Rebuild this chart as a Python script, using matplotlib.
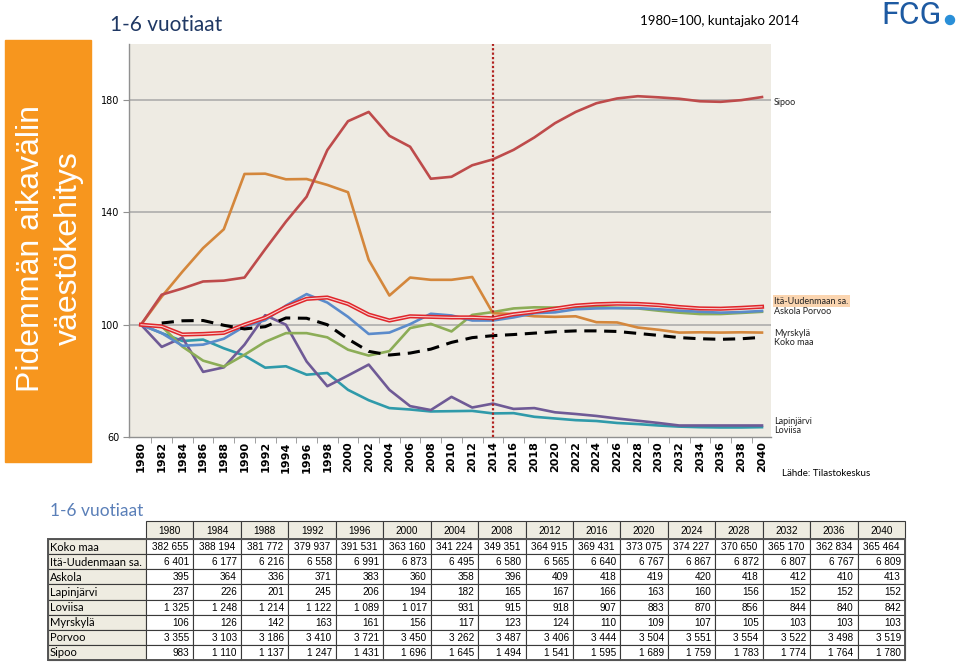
import matplotlib
matplotlib.use('Agg')
import matplotlib.pyplot as plt
import matplotlib.patches as patches
from matplotlib import font_manager

W, H = 960, 663

# chart series, index 1980 = 100, read every second year
years = list(range(1980, 2041, 2))
koko_maa = [100, 100.6, 101.4, 101.5, 99.8, 98.5, 99.3, 102.4, 102.3, 100.0, 94.9, 90.5, 89.2, 89.9, 91.3, 93.7,
            95.4, 96.1, 96.5, 97.0, 97.5, 97.8, 97.8, 97.6, 96.9, 96.2, 95.4, 95.0, 94.8, 95.0, 95.5]
ita_uusimaa = [100, 99.4, 96.5, 96.7, 97.1, 100.0, 102.5, 106.3, 109.2, 109.7, 107.4, 103.6, 101.5, 103.0, 102.8, 102.6,
               102.6, 102.3, 103.7, 104.6, 105.7, 106.8, 107.3, 107.5, 107.4, 107.0, 106.3, 105.8, 105.7, 106.0, 106.4]
askola = [100, 99.4, 92.2, 87.2, 85.1, 89.3, 93.9, 97.0, 97.0, 95.5, 91.1, 89.0, 90.6, 98.8, 100.3, 97.6,
          103.5, 104.5, 105.8, 106.2, 106.1, 106.2, 106.3, 106.0, 105.8, 105.0, 104.3, 103.8, 103.8, 104.2, 104.6]
lapinjarvi = [100, 92.1, 95.4, 83.2, 84.8, 92.9, 103.4, 100.0, 86.9, 78.1, 81.9, 85.8, 76.8, 71.0, 69.6, 74.3,
              70.5, 71.9, 70.0, 70.3, 68.8, 68.2, 67.5, 66.6, 65.8, 65.0, 64.1, 64.1, 64.1, 64.1, 64.1]
loviisa = [100, 97.0, 94.2, 94.7, 91.6, 89.0, 84.7, 85.2, 82.2, 82.8, 76.8, 73.1, 70.3, 69.8, 69.1, 69.2,
           69.3, 68.4, 68.5, 67.2, 66.6, 66.0, 65.7, 65.0, 64.6, 64.1, 63.7, 63.5, 63.4, 63.4, 63.5]
myrskyla = [100, 110.0, 118.9, 127.3, 134.0, 153.7, 153.8, 151.8, 151.9, 149.8, 147.2, 123.1, 110.4, 116.8, 116.0, 116.0,
            117.0, 104.1, 103.8, 103.0, 102.8, 103.0, 100.9, 100.8, 99.0, 98.2, 97.2, 97.3, 97.2, 97.3, 97.2]
porvoo = [100, 97.0, 92.5, 92.9, 95.0, 99.4, 101.6, 106.8, 110.9, 107.9, 102.8, 96.7, 97.2, 100.2, 103.9, 103.3,
          101.5, 101.5, 102.6, 104.1, 104.4, 105.5, 105.8, 105.9, 105.9, 105.5, 105.0, 104.6, 104.3, 104.5, 104.9]
sipoo = [100, 110.7, 112.9, 115.4, 115.7, 116.8, 126.9, 136.7, 145.6, 162.2, 172.5, 175.8, 167.3, 163.4, 152.0, 152.7,
         156.8, 158.9, 162.3, 166.7, 171.8, 175.8, 178.9, 180.6, 181.4, 181.0, 180.5, 179.6, 179.4, 180.0, 181.1]

# table below the chart
table_years = [1980, 1984, 1988, 1992, 1996, 2000, 2004, 2008, 2012, 2016, 2020, 2024, 2028, 2032, 2036, 2040]
table_rows = ['Koko maa', 'Itä-Uudenmaan sa.', 'Askola', 'Lapinjärvi', 'Loviisa', 'Myrskylä', 'Porvoo', 'Sipoo']
t_koko_maa = [382655, 388194, 381772, 379937, 391531, 363160, 341224, 349351, 364915, 369431, 373075, 374227, 370650, 365170, 362834, 365464]
t_ita = [6401, 6177, 6216, 6558, 6991, 6873, 6495, 6580, 6565, 6640, 6767, 6867, 6872, 6807, 6767, 6809]
t_askola = [395, 364, 336, 371, 383, 360, 358, 396, 409, 418, 419, 420, 418, 412, 410, 413]
t_lapinjarvi = [237, 226, 201, 245, 206, 194, 182, 165, 167, 166, 163, 160, 156, 152, 152, 152]
t_loviisa = [1325, 1248, 1214, 1122, 1089, 1017, 931, 915, 918, 907, 883, 870, 856, 844, 840, 842]
t_myrskyla = [106, 126, 142, 163, 161, 156, 117, 123, 124, 110, 109, 107, 105, 103, 103, 103]
t_porvoo = [3355, 3103, 3186, 3410, 3721, 3450, 3262, 3487, 3406, 3444, 3504, 3551, 3554, 3522, 3498, 3519]
t_sipoo = [983, 1110, 1137, 1247, 1431, 1696, 1645, 1494, 1541, 1595, 1689, 1759, 1783, 1774, 1764, 1780]
table_values = [t_koko_maa, t_ita, t_askola, t_lapinjarvi, t_loviisa, t_myrskyla, t_porvoo, t_sipoo]

installed = {f.name for f in font_manager.fontManager.ttflist}
num_font = 'Liberation Sans Narrow' if 'Liberation Sans Narrow' in installed else 'Liberation Sans'
text_font = 'Lato'

beige = '#EEEBE3'


def rect(x0, y0, x1, y1):
    """pixel box (top-left origin) -> figure fraction"""
    return [x0 / W, 1 - y1 / H, (x1 - x0) / W, (y1 - y0) / H]


def fmt(v):
    return f"{v:,}".replace(',', ' ')


fig = plt.figure(figsize=(W / 100, H / 100), dpi=100)

# page layer in pixel coordinates
page = fig.add_axes([0, 0, 1, 1])
page.set_xlim(0, W)
page.set_ylim(H, 0)
page.axis('off')

page.text(110, 25, '1-6 vuotiaat', fontsize=15, color='#1F3864', family=text_font, va='center')
page.text(640, 21, '1980=100, kuntajako 2014', fontsize=9.5, color='black', family=text_font, va='center')
page.text(881, 15, 'FCG', fontsize=23, color='#1D5AA2', family='Roboto', va='center')
page.add_patch(patches.Circle((950, 20), 4.5, color='#2A8FD8'))

page.add_patch(patches.Rectangle((5, 40), 86, 422, color='#F7961E'))
page.text(50, 248, 'Pidemmän aikavälin\nväestökehitys', rotation=90, color='white', fontsize=23,
          family='Liberation Sans', ha='center', va='center', multialignment='center', linespacing=1.35)

page.text(782, 474, 'Lähde: Tilastokeskus', fontsize=7, family=text_font, va='center')

# table
page.text(50, 511, '1-6 vuotiaat', fontsize=12.5, color='#5A7FB8', family=text_font, va='center')
lab_x0, lab_x1, tab_x1 = 48, 146, 905
head_y0, head_y1, tab_y1 = 521, 539, 660
col_w = (tab_x1 - lab_x1) / len(table_years)
row_h = (tab_y1 - head_y1) / len(table_rows)
edge = '#3A3A3A'
for j, yr in enumerate(table_years):
    cx = lab_x1 + j * col_w
    page.add_patch(patches.Rectangle((cx, head_y0), col_w, head_y1 - head_y0, facecolor='#EEECE1',
                                     edgecolor=edge, lw=0.8))
    page.text(cx + col_w / 2, (head_y0 + head_y1) / 2 + 1, str(yr), fontsize=7.2, family=num_font,
              ha='center', va='center')
for i, name in enumerate(table_rows):
    ry = head_y1 + i * row_h
    page.add_patch(patches.Rectangle((lab_x0, ry), lab_x1 - lab_x0, row_h, facecolor='#EEECE1',
                                     edgecolor=edge, lw=0.8))
    page.text(lab_x0 + 2, ry + row_h / 2 + 0.5, name, fontsize=8, family=text_font, va='center')
    for j, v in enumerate(table_values[i]):
        cx = lab_x1 + j * col_w
        page.add_patch(patches.Rectangle((cx, ry), col_w, row_h, facecolor='white', edgecolor=edge, lw=0.8))
        if i == 0:
            page.text(cx + col_w / 2, ry + row_h / 2 + 0.5, fmt(v), fontsize=7.2, family=num_font,
                      ha='center', va='center')
        else:
            page.text(cx + col_w - 4, ry + row_h / 2 + 0.5, fmt(v), fontsize=7.2, family=num_font,
                      ha='right', va='center')
page.add_patch(patches.Rectangle((lab_x0, head_y1), tab_x1 - lab_x0, tab_y1 - head_y1, fill=False,
                                 edgecolor='#555555', lw=1.4))

# chart
ax = fig.add_axes(rect(129, 44, 771, 437))
ax.set_facecolor(beige)
ax.set_xlim(1978.84, 2040.87)
ax.set_ylim(60, 200)

for yv in (100, 140, 180):
    ax.axhline(yv, color='#A8A8A8', lw=1.1, zorder=1)

ax.plot(years, loviisa, color='#2F9AAA', lw=1.9, zorder=3)
ax.plot(years, lapinjarvi, color='#6F5A96', lw=1.9, zorder=3)
ax.plot(years, askola, color='#8CAD57', lw=1.9, zorder=3)
ax.plot(years, myrskyla, color='#D4873C', lw=1.9, zorder=3)
ax.plot(years, porvoo, color='#5B8BCB', lw=1.9, zorder=4)
ax.plot(years, sipoo, color='#BE4B4B', lw=1.9, zorder=4)
ax.plot(years, ita_uusimaa, color='#E0262B', lw=3.0, zorder=5, solid_joinstyle='round')
ax.plot(years, ita_uusimaa, color='#F6CFCF', lw=0.8, zorder=5)
ax.plot(years[1:], koko_maa[1:], color='black', lw=2.2, dashes=(4, 2.5), zorder=6)

ax.axvline(2014, color='#B0211E', lw=1.6, ls=(0, (1, 1)), zorder=7)

ax.set_yticks([60, 100, 140, 180])
ax.tick_params(axis='y', length=4, color='#909090', labelsize=7, pad=3)
ax.set_xticks(years)
ax.set_xticklabels([str(y) for y in years], rotation=90, fontsize=8, fontweight='bold')
ax.set_xticks([y + 1 for y in years[:-1]], minor=True)
ax.tick_params(axis='x', which='major', length=0, pad=3)
ax.tick_params(axis='x', which='minor', length=4, color='#909090')
for s in ('top', 'right'):
    ax.spines[s].set_visible(False)
for s in ('left', 'bottom'):
    ax.spines[s].set_color('#909090')
    ax.spines[s].set_linewidth(1.0)

# end labels
lx = 2041.2
lab = dict(fontsize=6.5, family=text_font, va='center', ha='left', clip_on=False, color='#222222')
ax.text(lx - 0.1, 179.3, 'Sipoo', **lab)
ax.text(lx, 108.4, 'Itä-Uudenmaan sa.', bbox=dict(facecolor='#FBD5B0', edgecolor='none', pad=1.2), **lab)
ax.text(lx, 104.6, 'Askola Porvoo', **lab)
ax.text(lx, 97.0, 'Myrskylä', **lab)
ax.text(lx, 93.8, 'Koko maa', **lab)
ax.text(lx, 65.4, 'Lapinjärvi', **lab)
ax.text(lx, 62.3, 'Loviisa', **lab)

fig.savefig('out.png', dpi=100)
